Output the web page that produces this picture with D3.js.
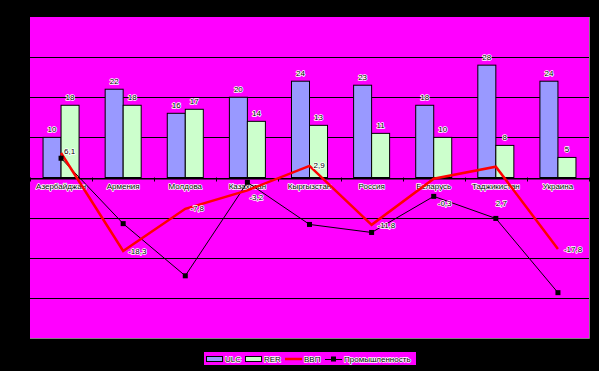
<!DOCTYPE html>
<html><head><meta charset="utf-8">
<script src="https://cdn.jsdelivr.net/npm/d3@7"></script>
<style>
html,body{margin:0;padding:0;background:#000;}
svg{display:block;}
text{font-family:"Liberation Sans",Arial,sans-serif;font-size:8px;fill:#000;stroke:#fff;stroke-width:1.6px;paint-order:stroke;stroke-linejoin:round;}
</style></head><body>
<script>
const categories = ["Азербайджан","Армения","Молдова","Казахстан","Кыргызстан","Россия","Беларусь","Таджикистан","Украина"];
const ulc = [10,22,16,20,24,23,18,28,24];
const rer = [18,18,17,14,13,11,10,8,5];
const gdp = [6.1,-18.3,-7.8,-3.2,2.9,-11.8,-0.3,2.7,-17.8];
const industry = [4.8,-11.5,-24.5,-1.2,-11.7,-13.7,-4.7,-10.2,-28.7];
const yTicks = [-30,-20,-10,0,10,20,30];
const seriesNames = ["ULC","RER","ВВП","Промышленность"];

const W=599,H=371;
const plot={l:30,t:17,r:589,b:338};
const svg=d3.select("body").append("svg").attr("width",W).attr("height",H);
svg.append("rect").attr("width",W).attr("height",H).attr("fill","#000");

const x=d3.scaleBand().domain(categories).range([plot.l,plot.r]).padding(0);
const y=d3.scaleLinear().domain([-40,40]).range([plot.b,plot.t]);
const bw=x.bandwidth()*0.29;

svg.append("rect").attr("x",plot.l).attr("y",plot.t).attr("width",plot.r-plot.l).attr("height",plot.b-plot.t).attr("fill","#ff00ff");
svg.append("path").attr("d",`M${plot.l},${plot.b+0.5}H${plot.r+0.5}V${plot.t}`).attr("stroke","#808080").attr("fill","none");

// gridlines
svg.append("g").selectAll("line").data(yTicks).join("line")
  .attr("x1",plot.l).attr("x2",plot.r).attr("y1",d=>Math.round(y(d))+0.5).attr("y2",d=>Math.round(y(d))+0.5)
  .attr("stroke","#000").attr("stroke-width",1);

// bars
const cx=c=>x(c)+x.bandwidth()/2;
const g=svg.append("g");
g.selectAll(".ulc").data(categories).join("rect")
  .attr("x",(c)=>cx(c)-bw).attr("width",bw)
  .attr("y",(c,i)=>y(ulc[i])).attr("height",(c,i)=>y(0)-y(ulc[i]))
  .attr("fill","#9999ff").attr("stroke","#000").attr("stroke-width",1);
g.selectAll(".rer").data(categories).join("rect")
  .attr("x",(c)=>cx(c)).attr("width",bw)
  .attr("y",(c,i)=>y(rer[i])).attr("height",(c,i)=>y(0)-y(rer[i]))
  .attr("fill","#ccffcc").attr("stroke","#000").attr("stroke-width",1);

// bar labels
g.selectAll(".ulcl").data(categories).join("text")
  .attr("x",c=>cx(c)-bw/2).attr("y",(c,i)=>y(ulc[i])-5).attr("text-anchor","middle").text((c,i)=>ulc[i]);
g.selectAll(".rerl").data(categories).join("text")
  .attr("x",c=>cx(c)+bw/2).attr("y",(c,i)=>y(rer[i])-5).attr("text-anchor","middle").text((c,i)=>rer[i]);

// x axis (zero line ticks + labels)
const xAxis=d3.axisBottom(x).tickSize(0).tickPadding(8);
const ax=svg.append("g").attr("transform",`translate(0,${Math.round(y(0))+0.5})`).call(xAxis);
ax.select(".domain").attr("stroke","#000");
ax.selectAll(".tick text").attr("font-size",8).attr("fill","#000").attr("dy","0.35em").attr("y",8);
svg.append("g").selectAll("line").data(d3.range(categories.length+1)).join("line")
  .attr("x1",i=>Math.round(plot.l+i*x.bandwidth())+0.5).attr("x2",i=>Math.round(plot.l+i*x.bandwidth())+0.5)
  .attr("y1",y(0)).attr("y2",y(0)+4).attr("stroke","#000");

// lines
const lineGen=d3.line().x((d,i)=>cx(categories[i])).y(d=>y(d));
svg.append("path").datum(industry).attr("d",lineGen).attr("fill","none").attr("stroke","#000").attr("stroke-width",1);
svg.append("path").datum(gdp).attr("d",lineGen).attr("fill","none").attr("stroke","#ff0000").attr("stroke-width",2.5);
svg.append("g").selectAll("rect").data(industry).join("rect")
  .attr("x",(d,i)=>cx(categories[i])-2.5).attr("y",d=>y(d)-2.5).attr("width",5).attr("height",5).attr("fill","#000");

// gdp labels
const labelOffset=[[3,1],[5,3],[5,2],[2,10],[4,2],[6,3],[4,27],[0,39],[6,3]];
svg.append("g").selectAll("text").data(gdp).join("text")
  .attr("x",(d,i)=>cx(categories[i])+labelOffset[i][0]).attr("y",(d,i)=>y(d)+labelOffset[i][1])
  .text(d=>String(d).replace(".",","));

// legend
const lg=svg.append("g");
lg.append("rect").attr("x",204).attr("y",352).attr("width",212).attr("height",13).attr("fill","#ff00ff");
lg.append("rect").attr("x",206.5).attr("y",356.5).attr("width",16).attr("height",5).attr("fill","#9999ff").attr("stroke","#000");
lg.append("text").attr("x",225).attr("y",361.5).text(seriesNames[0]);
lg.append("rect").attr("x",245.5).attr("y",356.5).attr("width",16).attr("height",5).attr("fill","#ccffcc").attr("stroke","#000");
lg.append("text").attr("x",264).attr("y",361.5).text(seriesNames[1]);
lg.append("line").attr("x1",285).attr("x2",302).attr("y1",359).attr("y2",359).attr("stroke","#ff0000").attr("stroke-width",2.5);
lg.append("text").attr("x",304).attr("y",361.5).text(seriesNames[2]);
lg.append("line").attr("x1",325).attr("x2",342).attr("y1",359.5).attr("y2",359.5).attr("stroke","#000");
lg.append("rect").attr("x",331).attr("y",356.5).attr("width",5).attr("height",5).attr("fill","#000");
lg.append("text").attr("x",344).attr("y",361.5).text(seriesNames[3]);
</script>
</body></html>
